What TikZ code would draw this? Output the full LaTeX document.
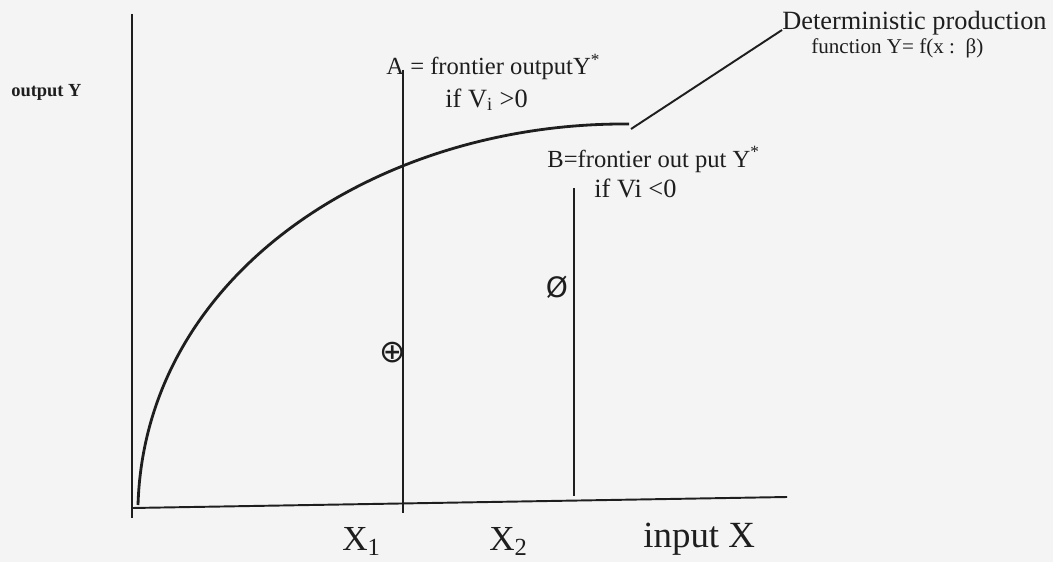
\documentclass[tikz,border=0pt]{standalone}
\usepackage{fontspec}
\setmainfont{Liberation Serif}
\newfontfamily\symbfont{DejaVu Sans}
\usetikzlibrary{positioning,calc}
\definecolor{plotink}{RGB}{30,30,30}
\definecolor{plotpaper}{RGB}{244,244,244}
\tikzset{
  axisline/.style={draw=plotink, line width=1.1pt},
  frontline/.style={draw=plotink, line width=1.6pt},
  markline/.style={draw=plotink, line width=0.8pt},
  leadline/.style={draw=plotink, line width=1.1pt},
  plotlabel/.style={
    text=plotink,
    inner sep=0pt,
    anchor=base west,
    font=\fontsize{14}{16}\selectfont
  },
  axislabel/.style={
    text=plotink,
    inner sep=0pt,
    anchor=base west,
    font=\fontsize{20}{22}\selectfont
  }
}

\begin{document}
\begin{tikzpicture}[x=0.02cm, y=0.02cm]
  \fill[plotpaper] (0,0) rectangle (1053,562);
  \useasboundingbox (0,0) rectangle (1053,562);

  \draw[axisline] (132,548) -- (132,44);
  \draw[axisline] (132,54) -- (787,65);
  \draw[markline] (403,492) -- (403,49);
  \draw[markline] (574,374) -- (574,66);

  \coordinate (fstart) at (138,57);
  \coordinate (ftop) at (629,438);
  \draw[frontline] (fstart) .. controls (145,290) and (380,440) .. (ftop);
  \coordinate (fend) at (631,433);

  \node[plotlabel, font=\fontsize{15}{17}\selectfont] (det) at (782,532) {Deterministic production};
  \node[plotlabel, font=\fontsize{12}{14}\selectfont] (fun) at (811,508) {function Y= f(x :\ \ β)};
  \draw[leadline] (fend) -- (det.base west);

  \node[plotlabel, font=\bfseries\fontsize{10.5}{12}\selectfont] (outy) at (11,465) {output Y};

  \node[plotlabel] (atext) at (386,487) {A = frontier outputY\textsuperscript{*}};
  \node[plotlabel, font=\fontsize{15}{17}\selectfont] (acond) at (445,455) {if V\textsubscript{i} >0};
  \node[plotlabel] (btext) at (547,395) {B=frontier out put Y\textsuperscript{*}};
  \node[plotlabel, font=\fontsize{15}{17}\selectfont] (bcond) at (594,365) {if Vi <0};

  \node[text=plotink, inner sep=0pt, font=\symbfont\fontsize{18}{20}\selectfont] (plus) at (393,209) {⊕};
  \node[text=plotink, inner sep=0pt, font=\symbfont\fontsize{16}{18}\selectfont] (null) at (557,275) {Ø};

  \node[axislabel] (xone) at (342,12) {X\textsubscript{1}};
  \node[axislabel] (xtwo) at (489,12) {X\textsubscript{2}};
  \node[axislabel, font=\fontsize{21}{23}\selectfont] (inx) at (643,15) {input X};
\end{tikzpicture}
\end{document}
